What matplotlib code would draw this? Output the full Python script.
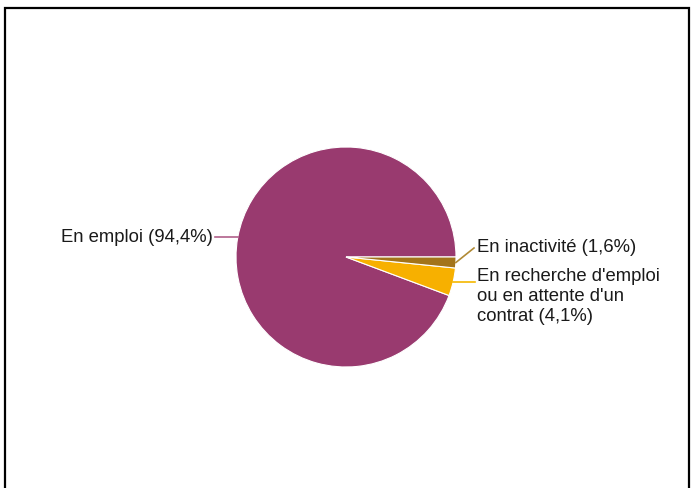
import numpy as np
import matplotlib
matplotlib.use("Agg")
import matplotlib.pyplot as plt
from matplotlib.patches import Rectangle

# data
labels = ["En emploi (94,4%)",
          "En recherche d'emploi\nou en attente d'un\ncontrat (4,1%)",
          "En inactivité (1,6%)"]
values = [94.4, 4.1, 1.6]
colors = ["#993A6F", "#F7B000", "#A3741A"]
line_colors = ["#B0608A", "#F5B800", "#B08A35"]

plt.rcParams['font.family'] = ['Liberation Sans', 'DejaVu Sans']

W, H = 695, 488
fig = plt.figure(figsize=(W / 100, H / 100), dpi=100)
ax = fig.add_axes([0, 0, 1, 1])

# frame (bottom edge cut off in the original)
ax.add_patch(Rectangle((5, -20), 684, H - 8 + 20, fill=False,
                       edgecolor='black', linewidth=1.6))

cx, cy, r = 346, H - 257, 110
wedges, _ = ax.pie(values, colors=colors, startangle=0, counterclock=True,
                   center=(cx, cy), radius=r, frame=True,
                   wedgeprops=dict(edgecolor='white', linewidth=0.8))
ax.set_xlim(0, W)
ax.set_ylim(0, H)
ax.set_aspect('auto')
ax.axis('off')

def edge_point(w):
    ang = np.deg2rad((w.theta1 + w.theta2) / 2)
    return cx + r * np.cos(ang), cy + r * np.sin(ang)

fs = 13.3

# En emploi - left
x0, y0 = edge_point(wedges[0])
ax.plot([x0, 215], [y0, y0], color=line_colors[0], lw=1.2)
ax.text(213, y0, labels[0], ha='right', va='center', fontsize=fs, color='#1a1a1a')

# En inactivite - right, angled leader
x2, y2 = edge_point(wedges[2])
ax.plot([x2, 474], [y2, H - 248], color=line_colors[2], lw=1.2)
ax.text(477, H - 248, labels[2], ha='left', va='center', fontsize=fs, color='#1a1a1a')

# En recherche - right, horizontal leader
x1, y1 = edge_point(wedges[1])
ax.plot([x1, 475], [y1, y1], color=line_colors[1], lw=1.2)
ax.text(477, H - 296.5, labels[1], ha='left', va='center', fontsize=fs,
        color='#1a1a1a', linespacing=1.2)

fig.savefig("out.png", dpi=100)
